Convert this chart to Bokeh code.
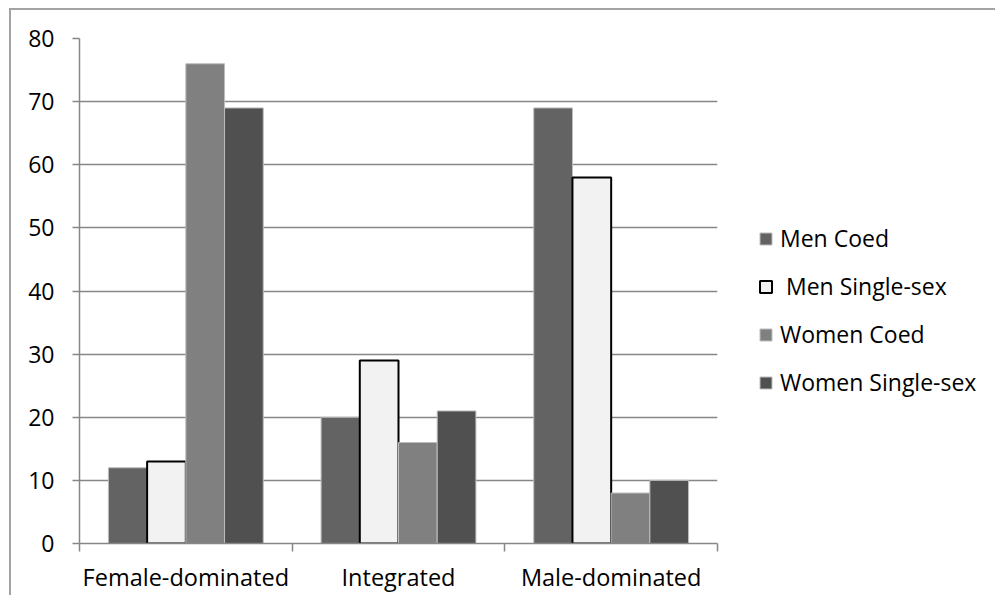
from bokeh.plotting import figure
from bokeh.models import (ColumnDataSource, FixedTicker, Legend, LegendItem,
                          CustomJSTickFormatter, Range1d)
from bokeh.transform import dodge
from bokeh.embed import file_html
from bokeh.resources import INLINE

categories = ["Female-dominated", "Integrated", "Male-dominated"]
men_coed = [12, 20, 69]
men_single = [13, 29, 58]
women_coed = [76, 16, 8]
women_single = [69, 21, 10]
series_names = ["Men Coed", " Men Single-sex", "Women Coed", "Women Single-sex"]
y_ticks = [0, 10, 20, 30, 40, 50, 60, 70, 80]

FONT = "Open Sans"
GRID = "#878787"

src = ColumnDataSource(dict(
    xc=[i + 0.5 for i in range(len(categories))],
    men_coed=men_coed, men_single=men_single,
    women_coed=women_coed, women_single=women_single,
))

p = figure(frame_width=638, frame_height=505, output_backend="svg", toolbar_location=None,
           x_range=Range1d(0, len(categories)), y_range=Range1d(0, 80),
           min_border_left=68, min_border_right=270, min_border_top=28,
           min_border_bottom=50)
p.styles = {"border-left": "2px solid #a3a3a3", "border-top": "2px solid #a3a3a3",
            "margin-left": "9px", "margin-top": "8px"}
p.outline_line_color = None
p.background_fill_color = "white"
p.border_fill_color = "white"

bw = 0.182
specs = [
    ("men_coed", "#636363", "#bdbdbd", 1),
    ("men_single", "#f2f2f2", "#000000", 2),
    ("women_coed", "#808080", "#bdbdbd", 1),
    ("women_single", "#505050", "#bdbdbd", 1),
]
renderers = []
for i, (col, fill, line, lw) in enumerate(specs):
    off = (i - 1.5) * bw
    r = p.vbar(x=dodge("xc", off, range=p.x_range), top=col, width=bw, bottom=0,
               source=src, fill_color=fill, line_color=line, line_width=lw)
    renderers.append(r)

# y axis
p.yaxis.ticker = FixedTicker(ticks=y_ticks)
p.yaxis.axis_line_color = GRID
p.yaxis.axis_line_width = 1.5
p.yaxis.major_tick_line_color = GRID
p.yaxis.major_tick_line_width = 1.5
p.yaxis.major_tick_out = 7
p.yaxis.major_tick_in = 0
p.yaxis.minor_tick_line_color = None
p.yaxis.major_label_standoff = 18
p.yaxis.major_label_text_font = FONT
p.yaxis.major_label_text_font_size = "23px"
p.yaxis.major_label_text_color = "#000000"

# x axis
p.xaxis.ticker = FixedTicker(ticks=[i + 0.5 for i in range(len(categories))],
                             minor_ticks=list(range(len(categories) + 1)))
p.xaxis.formatter = CustomJSTickFormatter(args=dict(labels=categories),
                                          code="return labels[Math.floor(tick)];")
p.xaxis.axis_line_color = GRID
p.xaxis.axis_line_width = 1.5
p.xaxis.major_tick_line_color = None
p.xaxis.major_tick_out = 0
p.xaxis.major_tick_in = 0
p.xaxis.minor_tick_line_color = GRID
p.xaxis.minor_tick_line_width = 1.5
p.xaxis.minor_tick_out = 8
p.xaxis.minor_tick_in = 0
p.xaxis.major_label_standoff = 9
p.xaxis.major_label_text_font = FONT
p.xaxis.major_label_text_font_size = "23.5px"
p.xaxis.major_label_text_color = "#000000"

p.xgrid.grid_line_color = None
p.ygrid.grid_line_color = GRID
p.ygrid.grid_line_width = 1.5
p.ygrid.ticker = FixedTicker(ticks=y_ticks)

legend = Legend(items=[LegendItem(label=n, renderers=[r]) for n, r in zip(series_names, renderers)],
                location=(41, 145), orientation="vertical",
                label_text_font=FONT, label_text_font_size="23px", label_text_color="#000000",
                glyph_width=15, glyph_height=15, label_standoff=7, spacing=16,
                margin=0, padding=10, border_line_color=None, background_fill_alpha=0)
p.add_layout(legend, "right")

open("out.html", "w").write(file_html(p, INLINE))
